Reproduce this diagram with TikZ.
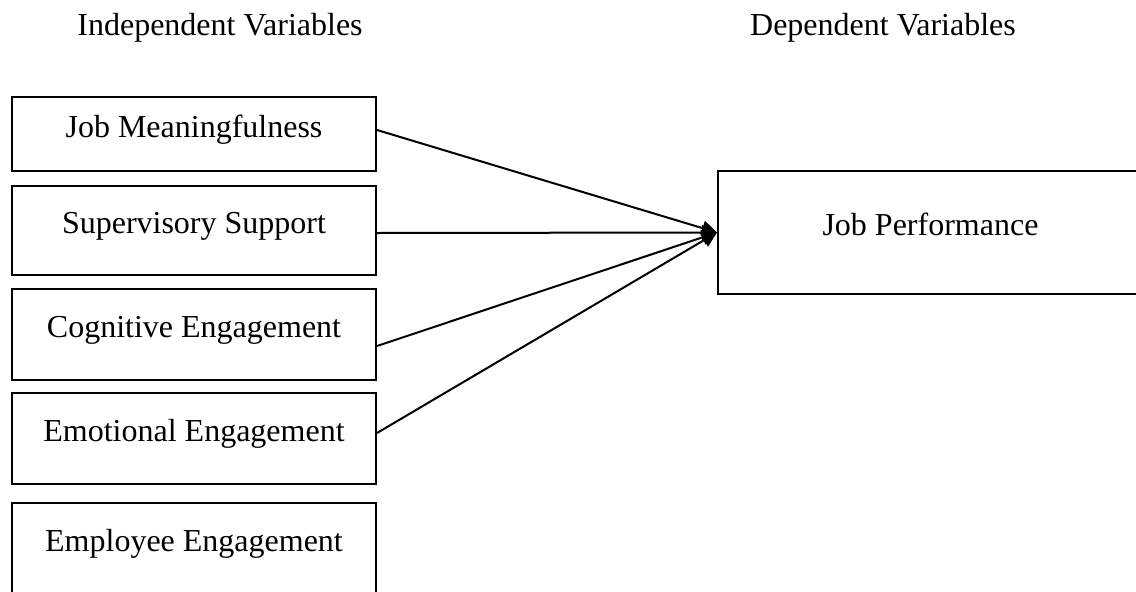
\documentclass[tikz,border=0pt]{standalone}
\usepackage{fontspec}
\setmainfont{Liberation Serif}
\usetikzlibrary{arrows.meta}

\begin{document}
\begin{tikzpicture}[
        x=1pt, y=-1pt,
        varbox/.style={
            rectangle,
            draw,
            line width=2pt,
            anchor=north west,
            align=center,
            minimum width=364pt,
            inner sep=0pt,
            text height=20pt,
            text depth=14pt,
            font=\fontsize{32}{38}\selectfont
        },
        perfbox/.style={
            varbox,
            minimum width=425pt
        },
        heading/.style={
            anchor=base,
            inner sep=0pt,
            font=\fontsize{32}{38}\selectfont
        },
        arrow/.style={-{Triangle[length=15pt,width=15pt]}, line width=2pt}
    ]

        \useasboundingbox (0,0) rectangle (1136,592);
        \clip (0,0) rectangle (1136,592);
        \fill[white] (0,0) rectangle (1136,592);

        \node[heading] (indep) at (220,35) {Independent Variables};
        \node[heading] (dep) at (883,35) {Dependent Variables};

        \node[varbox, minimum height=74pt] (meaning) at (11,96) {Job Meaningfulness};
        \node[varbox, minimum height=89pt] (support) at (11,185) {Supervisory Support};
        \node[varbox, minimum height=91pt] (cognitive) at (11,288) {Cognitive Engagement};
        \node[varbox, minimum height=91pt] (emotional) at (11,392) {Emotional Engagement};
        \node[varbox, minimum height=120pt, text depth=44pt] (employee) at (11,502) {Employee Engagement};
        \node[perfbox, minimum height=123pt] (perf) at (717,170) {Job Performance};

        \draw[arrow] ([yshift=4pt]meaning.east) -- (perf.west);
        \draw[arrow] ([yshift=-2.5pt]support.east) -- (perf.west);
        \draw[arrow] ([yshift=-11.5pt]cognitive.east) -- (perf.west);
        \draw[arrow] ([yshift=5.5pt]emotional.east) -- (perf.west);

    \end{tikzpicture}
\end{document}
